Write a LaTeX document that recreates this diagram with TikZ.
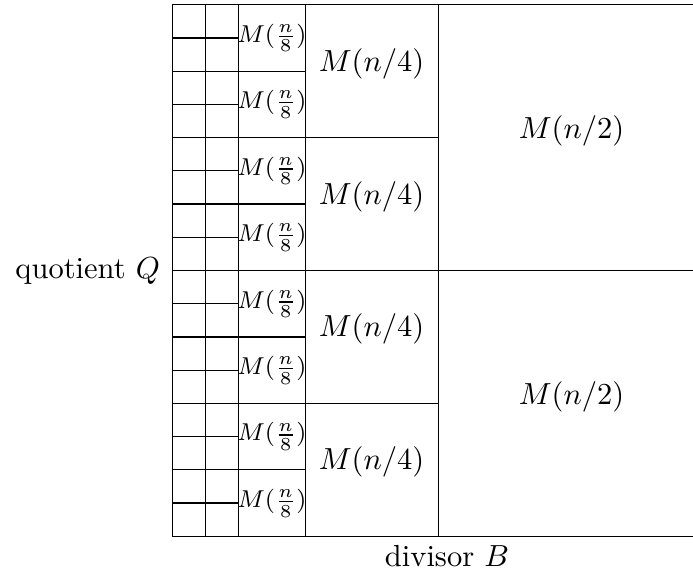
\documentclass[tikz,border=0pt]{standalone}
\begin{document}
\begin{tikzpicture}[x=0.32787pt, y=-0.32787pt,
  gridline/.style={line width=0.4pt, black},
  smalllabel/.style={inner sep=0pt, font=\footnotesize},
  biglabel/.style={inner sep=0pt, anchor=base},
  axislabel/.style={inner sep=0pt}]
\useasboundingbox (0,0) rectangle (693,583);
% vertical lines
\foreach \xx in {172.3,205.5,238.8,305.3,438.3}
  \draw[gridline] (\xx,4.7) -- (\xx,536.3);
% horizontal lines
\foreach \r in {0,8,16}
  \draw[gridline] (172.3,{4.7+33.225*\r}) -- (693,{4.7+33.225*\r});
\foreach \r in {4,12}
  \draw[gridline] (172.3,{4.7+33.225*\r}) -- (438.3,{4.7+33.225*\r});
\foreach \r in {2,6,10,14}
  \draw[gridline] (172.3,{4.7+33.225*\r}) -- (305.3,{4.7+33.225*\r});
\foreach \r in {1,3,5,7,9,11,13,15}
  \draw[gridline] (172.3,{4.7+33.225*\r}) -- (238.8,{4.7+33.225*\r});
% labels
\foreach \k in {0,...,7}
  \node[smalllabel] (m8-\k) at (272,{4.7+33.225*(2*\k+1)}) {$M(\frac{n}{8})$};
\foreach \k in {0,...,3}
  \node[biglabel] (m4-\k) at (371.5,{4.7+33.225*(4*\k+2)}) {$M(n/4)$};
\foreach \k in {0,1}
  \node[biglabel] (m2-\k) at (571.5,{4.7+33.225*(8*\k+4)+1}) {$M(n/2)$};
\node[axislabel, anchor=base east] (quot) at (160.5,278.3) {quotient $Q$};
\node[axislabel, anchor=base] (div) at (447,566.6) {divisor $B$};
\end{tikzpicture}
\end{document}
